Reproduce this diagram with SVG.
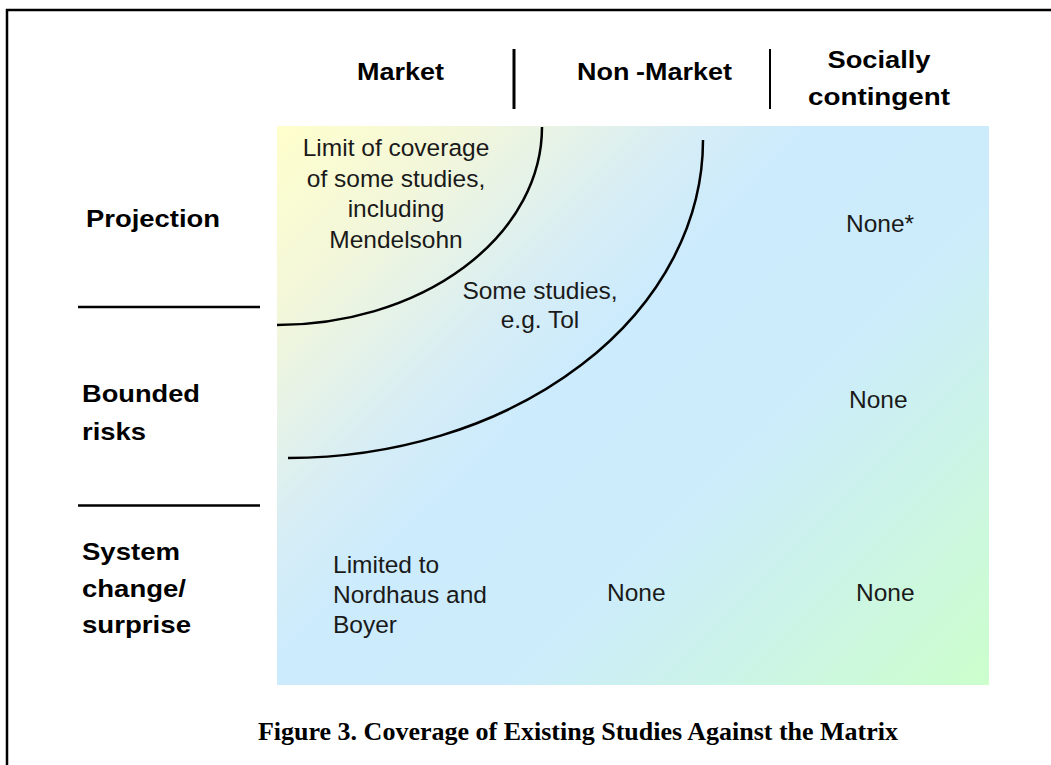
<svg xmlns="http://www.w3.org/2000/svg" width="1051" height="765" viewBox="0 0 1051 765">
<style>
.hd{font-family:"Liberation Sans",Arial,sans-serif;font-weight:bold;font-size:24px;fill:#000}
.bd{font-family:"Liberation Sans",Arial,sans-serif;font-size:24.5px;fill:#1a1a1a}
.cap{font-family:"Liberation Serif","Times New Roman",serif;font-weight:bold;font-size:26px;fill:#000}
.ln{stroke:#000;fill:none}
</style>
<defs>
<linearGradient id="bg" gradientUnits="userSpaceOnUse" x1="277" y1="126" x2="912.5" y2="761.5">
<stop offset="0" stop-color="#FFFFCC"/>
<stop offset="0.15" stop-color="#F3F7DA"/>
<stop offset="0.33" stop-color="#D6EDF6"/>
<stop offset="0.42" stop-color="#CCEBFC"/>
<stop offset="0.62" stop-color="#CCECFB"/>
<stop offset="0.8" stop-color="#CCF4E6"/>
<stop offset="1" stop-color="#CCFFCC"/>
</linearGradient>
</defs>
<rect x="0" y="0" width="1051" height="765" fill="#fff"/>
<g id="frame">
<line class="ln" x1="6" y1="10" x2="1051" y2="10" stroke-width="2.5"/>
<line class="ln" x1="7" y1="9" x2="7" y2="765" stroke-width="2.5"/>
</g>
<g id="matrix">
<rect x="277" y="126" width="712" height="559" fill="url(#bg)"/>
</g>
<g id="headers">
<text class="hd" x="357" y="80" textLength="87" lengthAdjust="spacingAndGlyphs">Market</text>
<text class="hd" x="577" y="80" textLength="155" lengthAdjust="spacingAndGlyphs">Non<tspan dx="6">-Market</tspan></text>
<text class="hd" x="879" y="68" text-anchor="middle" textLength="103" lengthAdjust="spacingAndGlyphs">Socially</text>
<text class="hd" x="879" y="105" text-anchor="middle" textLength="142" lengthAdjust="spacingAndGlyphs">contingent</text>
<line class="ln" x1="514" y1="49" x2="514" y2="109" stroke-width="3"/>
<line class="ln" x1="770" y1="49" x2="770" y2="109" stroke-width="2"/>
</g>
<g id="rows">
<text class="hd" x="86" y="227" textLength="134" lengthAdjust="spacingAndGlyphs">Projection</text>
<text class="hd" x="82" y="402" textLength="118" lengthAdjust="spacingAndGlyphs">Bounded</text>
<text class="hd" x="82" y="440" textLength="64" lengthAdjust="spacingAndGlyphs">risks</text>
<text class="hd" x="82" y="560" textLength="98" lengthAdjust="spacingAndGlyphs">System</text>
<text class="hd" x="82" y="597" textLength="104" lengthAdjust="spacingAndGlyphs">change/</text>
<text class="hd" x="82" y="633" textLength="109" lengthAdjust="spacingAndGlyphs">surprise</text>
<line class="ln" x1="78" y1="307" x2="260" y2="307" stroke-width="2.6"/>
<line class="ln" x1="78" y1="505.5" x2="260" y2="505.5" stroke-width="2.6"/>
</g>
<g id="connectors">
<path class="ln" d="M542,127 A265,198 0 0 1 277,325" stroke-width="2.5"/>
<path class="ln" d="M703,140 A415,318 0 0 1 288,458" stroke-width="2.5"/>
</g>
<g id="cell-limit">
<text class="bd" x="396" y="156" text-anchor="middle">Limit of coverage</text>
<text class="bd" x="396" y="187" text-anchor="middle">of some studies,</text>
<text class="bd" x="396" y="217" text-anchor="middle">including</text>
<text class="bd" x="396" y="248" text-anchor="middle">Mendelsohn</text>
</g>
<g id="cell-some">
<text class="bd" x="540" y="299" text-anchor="middle">Some studies,</text>
<text class="bd" x="540" y="328" text-anchor="middle">e.g. Tol</text>
</g>
<g id="cell-proj-soc"><text class="bd" x="846" y="232">None*</text></g>
<g id="cell-bound-soc"><text class="bd" x="849" y="408">None</text></g>
<g id="cell-sys-market">
<text class="bd" x="333" y="573">Limited to</text>
<text class="bd" x="333" y="603">Nordhaus and</text>
<text class="bd" x="333" y="633">Boyer</text>
</g>
<g id="cell-sys-nonmarket"><text class="bd" x="607" y="601">None</text></g>
<g id="cell-sys-soc"><text class="bd" x="856" y="601">None</text></g>
<g id="caption">
<text class="cap" x="578" y="740" text-anchor="middle">Figure 3. Coverage of Existing Studies Against the Matrix</text>
</g>
</svg>
